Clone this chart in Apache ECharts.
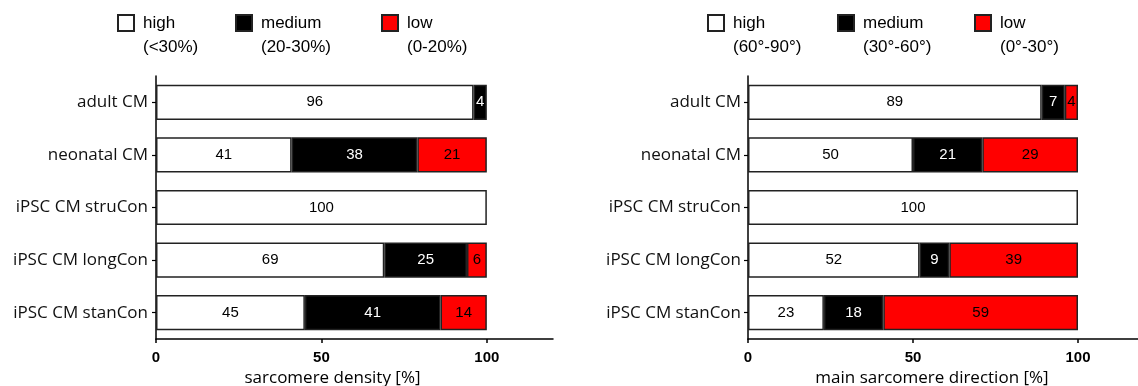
<!DOCTYPE html>
<html>
<head>
<meta charset="utf-8">
<script src="https://cdn.jsdelivr.net/npm/echarts@6/dist/echarts.min.js"></script>
<style>
html,body{margin:0;padding:0;background:#fff;}
#chart{width:1138px;height:386px;}
</style>
</head>
<body>
<div id="chart"></div>
<script>
// ---- data ----
const categories = ['adult CM', 'neonatal CM', 'iPSC CM struCon', 'iPSC CM longCon', 'iPSC CM stanCon'];
const densityHigh = [96, 41, 100, 69, 45];
const densityMedium = [4, 38, 0, 25, 41];
const densityLow = [0, 21, 0, 6, 14];
const directionHigh = [89, 50, 100, 52, 23];
const directionMedium = [7, 21, 0, 9, 18];
const directionLow = [4, 29, 0, 39, 59];
const xTicks = [0, 50, 100];
const densityNames = ['high\n(<30%)', 'medium\n(20-30%)', 'low\n(0-20%)'];
const directionNames = ['high\n(60°-90°)', 'medium\n(30°-60°)', 'low\n(0°-30°)'];
const axisNames = ['sarcomere density [%]', 'main sarcomere direction [%]'];

// ---- style ----
const fills = ['#ffffff', '#000000', '#ff0000'];
const labelColors = ['#000000', '#ffffff', '#000000'];
const catFont = 'Open Sans';
const numFont = 'Liberation Sans';

function makeSeries(name, data, idx, axisIdx) {
  return {
    name: name,
    type: 'bar',
    stack: 'panel' + axisIdx,
    xAxisIndex: axisIdx,
    yAxisIndex: axisIdx,
    barCategoryGap: '33%',
    data: data.map(v => (v === 0 ? '-' : v)),
    itemStyle: { color: fills[idx], borderColor: '#222', borderWidth: 1.5 },
    label: {
      show: true,
      position: 'inside',
      color: labelColors[idx],
      fontFamily: numFont,
      fontSize: 15,
      formatter: p => (p.value ? String(p.value) : '')
    },
    emphasis: { disabled: true }
  };
}

function makeLegend(name, left) {
  return {
    data: [name],
    left: left,
    top: -13,
    padding: 0,
    itemWidth: 16,
    itemHeight: 16,
    icon: 'rect',
    selectedMode: false,
    formatter: n => ' \n' + n,
    textStyle: {
      fontFamily: numFont,
      fontSize: 17,
      lineHeight: 24,
      color: '#000',
      padding: [0, 0, 0, 4]
    }
  };
}

function xAxisCfg(idx, namePad) {
  return {
    type: 'value',
    gridIndex: idx,
    min: 0,
    max: 120,
    interval: 50,
    name: axisNames[idx],
    nameLocation: 'middle',
    nameGap: 24,
    nameTextStyle: { fontFamily: catFont, fontSize: 17, color: '#000', padding: [0, namePad, 0, 0] },
    axisLine: { show: true, lineStyle: { color: '#000', width: 1.5 } },
    axisTick: { show: true, length: 4, customValues: xTicks, lineStyle: { color: '#000', width: 1.5 } },
    axisLabel: {
      customValues: xTicks,
      margin: 11,
      fontFamily: numFont,
      fontWeight: 'bold',
      fontSize: 15,
      color: '#000',
      formatter: v => (xTicks.indexOf(v) >= 0 ? String(v) : '')
    },
    splitLine: { show: false }
  };
}

function yAxisCfg(idx, margin) {
  return {
    type: 'category',
    gridIndex: idx,
    data: categories,
    inverse: true,
    axisLine: { show: true, lineStyle: { color: '#000', width: 1.5 } },
    axisTick: { show: true, alignWithLabel: true, length: 4, lineStyle: { color: '#000', width: 1.2 } },
    axisLabel: { margin: margin, fontFamily: catFont, fontSize: 17, color: '#111' },
    splitLine: { show: false }
  };
}

const chart = echarts.init(document.getElementById('chart'), null, { renderer: 'canvas' });
chart.setOption({
  animation: false,
  backgroundColor: '#fff',
  legend: [
    makeLegend(densityNames[0], 117),
    makeLegend(densityNames[1], 235),
    makeLegend(densityNames[2], 381),
    makeLegend(directionNames[0], 707),
    makeLegend(directionNames[1], 837),
    makeLegend(directionNames[2], 974)
  ],
  grid: [
    { left: 156, top: 76, width: 397, height: 263, containLabel: false, outerBoundsMode: 'none' },
    { left: 748, top: 76, width: 396, height: 263, containLabel: false, outerBoundsMode: 'none' }
  ],
  xAxis: [xAxisCfg(0, 44), xAxisCfg(1, 28)],
  yAxis: [yAxisCfg(0, 8), yAxisCfg(1, 7)],
  series: [
    makeSeries(densityNames[0], densityHigh, 0, 0),
    makeSeries(densityNames[1], densityMedium, 1, 0),
    makeSeries(densityNames[2], densityLow, 2, 0),
    makeSeries(directionNames[0], directionHigh, 0, 1),
    makeSeries(directionNames[1], directionMedium, 1, 1),
    makeSeries(directionNames[2], directionLow, 2, 1)
  ]
});
</script>
</body>
</html>
